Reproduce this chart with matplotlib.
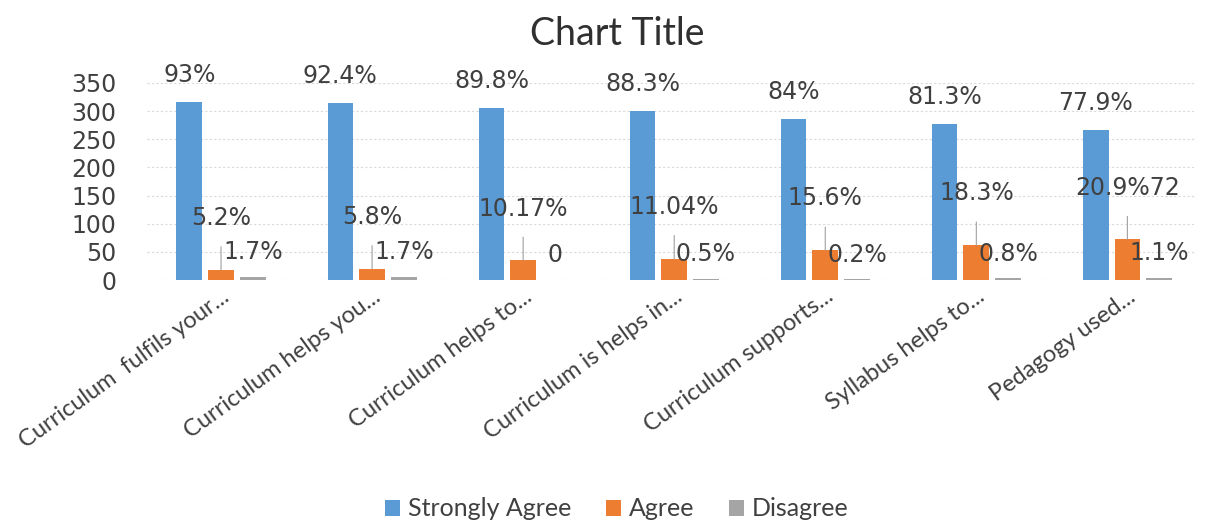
import matplotlib.pyplot as plt
import numpy as np

# data
categories = ['Curriculum  fulfils your...', 'Curriculum helps you...', 'Curriculum helps to...',
              'Curriculum is helps in...', 'Curriculum supports...', 'Syllabus helps to...',
              'Pedagogy used...']
strongly_agree = [317, 315, 306, 301, 286, 277, 266]
agree = [18, 20, 35, 38, 53, 62, 72]
disagree = [6, 6, 0, 2, 1, 3, 4]

sa_labels = ['93%', '92.4%', '89.8%', '88.3%', '84%', '81.3%', '77.9%']
agree_labels = ['5.2%', '5.8%', '10.17%', '11.04%', '15.6%', '18.3%', '20.9%72']
dis_labels = ['1.7%', '1.7%', '0', '0.5%', '0.2%', '0.8%', '1.1%']

blue = '#5B9BD5'
orange = '#ED7D31'
gray = '#A5A5A5'
txt = '#404040'

fig = plt.figure(figsize=(12.05, 5.22), dpi=100)
ax = fig.add_axes([0.122, 0.4636, 0.87, 0.3774])

x = np.arange(len(categories))
w = 0.17
off = 0.21
ax.bar(x - off, strongly_agree, w, color=blue, label='Strongly Agree', zorder=3)
ax.bar(x, agree, w, color=orange, label='Agree', zorder=3)
ax.bar(x + off, disagree, w, color=gray, label='Disagree', zorder=3)

for i in range(len(categories)):
    ax.text(x[i] - off, strongly_agree[i] + 48, sa_labels[i], ha='center', va='center',
            fontsize=17, color=txt, family='DejaVu Sans')
    ly = agree[i] + 92
    ax.annotate(agree_labels[i], xy=(x[i], agree[i]), xytext=(x[i], ly),
                ha='center', va='center', fontsize=17, color=txt, family='DejaVu Sans',
                arrowprops=dict(arrowstyle='-', color='#A0A0A0', lw=0.8, shrinkA=10, shrinkB=0),
                zorder=4)
    ax.text(x[i] + off, disagree[i] + 44, dis_labels[i], ha='center', va='center',
            fontsize=17, color=txt, family='DejaVu Sans', zorder=4)

ax.set_ylim(0, 350)
ax.set_xlim(-0.49, 6.45)
ax.set_yticks(range(0, 351, 50))
ax.yaxis.grid(True, color='#D9D9D9', lw=0.8, ls=(0, (2, 2)), zorder=0)
ax.tick_params(axis='y', length=0, labelsize=17, labelcolor=txt, pad=22)
ax.tick_params(axis='x', length=0, pad=4)
for s in ax.spines.values():
    s.set_visible(False)
for t in ax.get_yticklabels():
    t.set_family('DejaVu Sans')

ax.set_xticks(x)
ax.set_xticklabels(categories, rotation=36, ha='right', rotation_mode='anchor',
                   fontsize=17, color=txt, family='Lato')

fig.text(0.512, 0.935, 'Chart Title', ha='center', va='center', fontsize=27,
         color='#303030', family='Lato')

fig.legend(loc='center', bbox_to_anchor=(0.512, 0.025), ncol=3, frameon=False,
           handlelength=0.6, handleheight=0.6, handletextpad=0.3,
           columnspacing=1.4, prop={'family': 'Lato', 'size': 18})
for t in fig.legends[0].get_texts():
    t.set_color(txt)

fig.savefig('out.png', dpi=100, facecolor='white')
